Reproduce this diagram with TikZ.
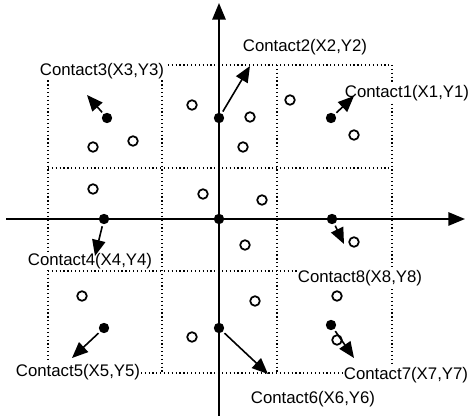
\documentclass[tikz,border=0pt]{standalone}
\usepackage{fontspec}
\setmainfont{Liberation Sans}
\usetikzlibrary{arrows.meta}
\begin{document}
\begin{tikzpicture}[x=0.75pt,y=-0.75pt,
  gridline/.style={dotted,line width=0.9pt,black},
  axisline/.style={line width=1.4pt,-{Triangle[length=12.5pt,width=10pt]}},
  arr/.style={line width=1.2pt,-{Triangle[length=12pt,width=10pt]},shorten <=1.5pt},
  fdot/.style={circle,fill=black,inner sep=0pt,minimum size=7.8pt},
  odot/.style={circle,draw=black,line width=1.3pt,fill=white,inner sep=0pt,minimum size=7.2pt},
  lab/.style={fill=white,inner sep=0.6pt,font=\fontsize{12.6}{15}\selectfont}]
\useasboundingbox (0,0) rectangle (472,416);
% grid
\foreach \gx in {48,162,277,392} \draw[gridline] (\gx,65) -- (\gx,373);
\foreach \gy in {65,168,271,373} \draw[gridline] (48,\gy) -- (392,\gy);
% labels
\node[lab] (l1) at (407,93) {Contact1(X1,Y1)};
\node[lab] (l2) at (305,47) {Contact2(X2,Y2)};
\node[lab] (l3) at (102,71) {Contact3(X3,Y3)};
\node[lab] (l4) at (90,261) {Contact4(X4,Y4)};
\node[lab] (l5) at (78,372) {Contact5(X5,Y5)};
\node[lab] (l6) at (313,399) {Contact6(X6,Y6)};
\node[lab] (l7) at (406,375) {Contact7(X7,Y7)};
\node[lab] (l8) at (360,278) {Contact8(X8,Y8)};
% axes
\coordinate (xl) at (6,219);
\coordinate (xr) at (465,219);
\coordinate (yb) at (219,416);
\coordinate (yt) at (219,3);
\draw[axisline] (xl) -- (xr);
\draw[axisline] (yb) -- (yt);
% open circles
\foreach \px/\py [count=\i] in {93/147,133/141,93/189,192/105,203/194,290/100,250/117,243/147,354/135,262/200,82/296,192/337,245/245,354/242,255/301,337/296,337/340}
  \node[odot] (o\i) at (\px,\py) {};
% contact dots
\node[fdot] (c0) at (219,219) {};
\node[fdot] (c1) at (331,118) {};
\node[fdot] (c2) at (219,118) {};
\node[fdot] (c3) at (107,118) {};
\node[fdot] (c4) at (104,219) {};
\node[fdot] (c5) at (104,328) {};
\node[fdot] (c6) at (219,328) {};
\node[fdot] (c7) at (331,325) {};
\node[fdot] (c8) at (332,219) {};
% arrow tips
\coordinate (t1) at (354,96);
\coordinate (t2) at (250,66);
\coordinate (t3) at (87,95);
\coordinate (t4) at (95,256);
\coordinate (t5) at (72,358);
\coordinate (t6) at (268,374);
\coordinate (t7) at (354,358);
\coordinate (t8) at (344,244);
\foreach \k in {1,...,8} \draw[arr] (c\k) -- (t\k);
\end{tikzpicture}
\end{document}
